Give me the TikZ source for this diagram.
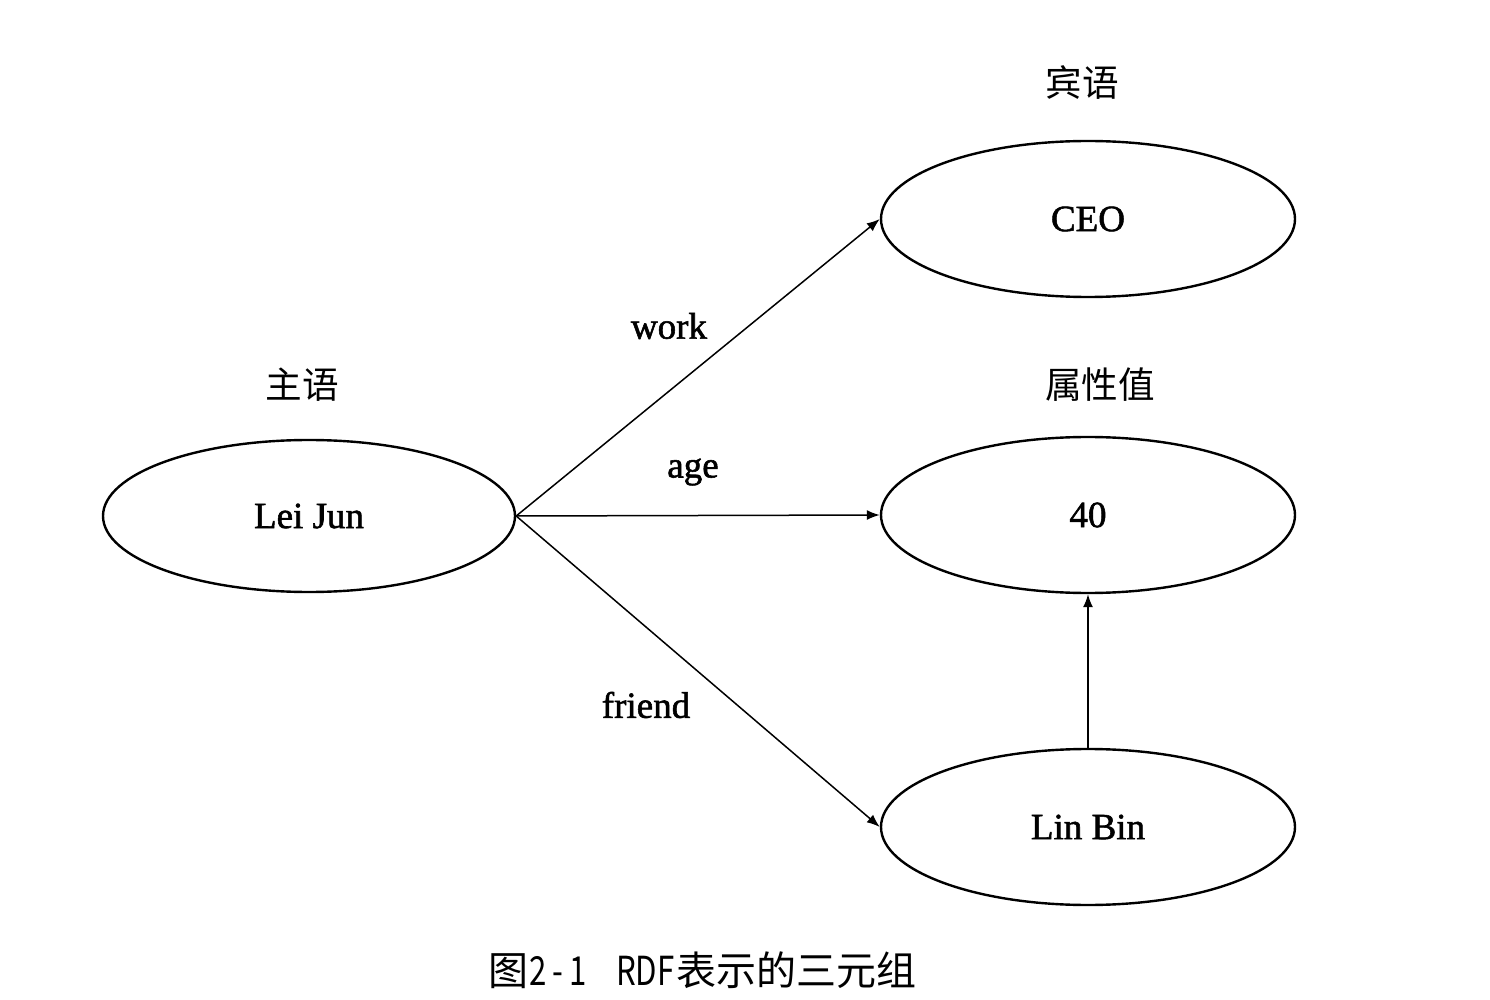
\documentclass[tikz,border=0pt]{standalone}
\usepackage{graphicx}
\usepackage{fontspec}
\setmainfont{Liberation Serif}
\newfontfamily\labfont[FakeBold=1.5]{Liberation Serif}
\newfontfamily\cjk{Noto Sans CJK SC}
\newcommand\hwc[1]{\makebox[10pt][c]{\scalebox{0.78}[1]{#1}}}
\usetikzlibrary{shapes.geometric,arrows.meta}
\begin{document}
\begin{tikzpicture}[x=0.5pt,y=-0.5pt,
  ell/.style={draw,ellipse,line width=1.2pt,inner sep=0pt,minimum width=207pt,minimum height=78pt,font=\labfont\fontsize{18.5}{22}\selectfont},
  conn/.style={line width=0.75pt,-{Latex[length=6.5pt,width=5pt]}},
  elabel/.style={font=\labfont\fontsize{18.5}{22}\selectfont},
  cjklabel/.style={font=\cjk\fontsize{18.3}{22}\selectfont}]
\useasboundingbox (0,0) rectangle (1490,1000);
\node[ell,minimum width=206pt,minimum height=76pt] (lei) at (309,516) {Lei Jun};
\node[ell] (ceo) at (1088,219) {CEO};
\node[ell] (forty) at (1088,515) {40};
\node[ell] (lin) at (1088,827) {Lin Bin};
\node[cjklabel] (subj) at (302,385) {主语};
\node[cjklabel] (obj) at (1082,83) {宾语};
\node[cjklabel] (attr) at (1100,385) {属性值};
\node[elabel] (work) at (669,326) {work};
\node[elabel] (age) at (693,472) {age};
\node[elabel] (friend) at (646,705) {friend};
\draw[conn] (lei.east) -- (ceo.west);
\draw[conn] (lei.east) -- (forty.west);
\draw[conn] (lei.east) -- (lin.west);
\draw[conn] (lin.north) -- (forty.south);
\node[font=\cjk\fontsize{20}{24}\selectfont,inner sep=0pt] (cap) at (702,970) {图\hwc{2}\hwc{-}\hwc{1}\hspace{14pt}\hwc{R}\hwc{D}\hwc{F}表示的三元组};
\end{tikzpicture}
\end{document}
